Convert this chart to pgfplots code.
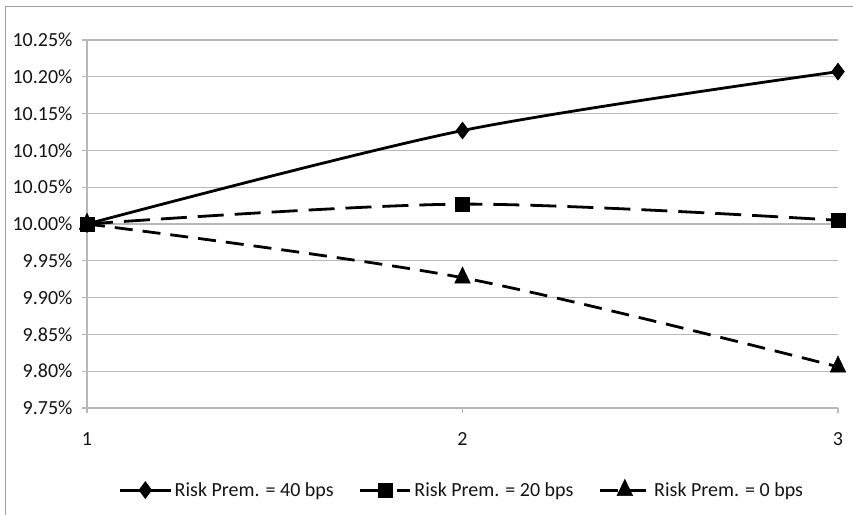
\documentclass[border=0pt]{standalone}
\usepackage{fontspec}
\setmainfont{Carlito}
\usepackage{pgfplots}
\pgfplotsset{compat=1.18}

\definecolor{gridgray}{gray}{0.72}
\definecolor{framegray}{gray}{0.62}
\definecolor{txt}{gray}{0.08}

\begin{document}
\begin{tikzpicture}
\useasboundingbox (0pt,0pt) rectangle (853pt,514pt);
% chart area frame
\draw[framegray, line width=1.3pt] (5.5pt,-5pt) -- (5.5pt,507.5pt) -- (860pt,507.5pt);
\begin{axis}[
  at={(87pt,106pt)}, anchor=south west,
  scale only axis, width=751pt, height=368pt,
  xmin=1, xmax=3, ymin=9.75, ymax=10.25,
  xtick={1,2,3}, ytick={9.75,9.80,...,10.26},
  axis x line*=bottom, axis y line*=left,
  axis line style={gridgray, line width=1.3pt, -},
  tick style={gridgray, line width=1.3pt},
  tick align=outside, major tick length=5pt,
  ymajorgrids, major grid style={gridgray, line width=1.3pt},
  tick label style={font=\fontsize{20pt}{24pt}\selectfont, text=txt},
  yticklabel={\pgfmathprintnumber[fixed,fixed zerofill,precision=2,assume math mode=true]{\tick}\%},
  xticklabel={\pgfmathprintnumber[assume math mode=true]{\tick}},
  yticklabel style={xshift=-6pt},
  xticklabel style={yshift=-16pt},
  legend columns=3,
  legend style={at={(0.5,-0.223)}, anchor=center, draw=none, fill=none,
    font=\fontsize{20pt}{24pt}\selectfont, text=txt,
    /tikz/every even column/.append style={column sep=22pt},
    nodes={inner sep=3pt}},
  legend image code/.code={
    \draw[mark repeat=2, mark phase=2] plot coordinates {(0pt,0pt) (25pt,0pt) (50pt,0pt)};},
  every axis plot/.append style={black, line width=2.8pt, smooth},
]
\addplot[mark=diamond*, mark size=8.5pt, mark options={solid, line width=0.5pt}]
  coordinates {(1,10.000) (2,10.127) (3,10.207)};
\addlegendentry{Risk Prem. = 40 bps}
\addplot[dash pattern=on 26pt off 11pt, mark=square*, mark size=7pt, mark options={solid, line width=0.5pt}]
  coordinates {(1,10.000) (2,10.027) (3,10.005)};
\addlegendentry{Risk Prem. = 20 bps}
\addplot[dash pattern=on 18pt off 10pt, mark=triangle*, mark size=9pt, mark options={solid, line width=0.5pt, yscale=1.2}]
  coordinates {(1,10.000) (2,9.927) (3,9.806)};
\addlegendentry{Risk Prem. = 0 bps}
\end{axis}
\end{tikzpicture}
\end{document}
